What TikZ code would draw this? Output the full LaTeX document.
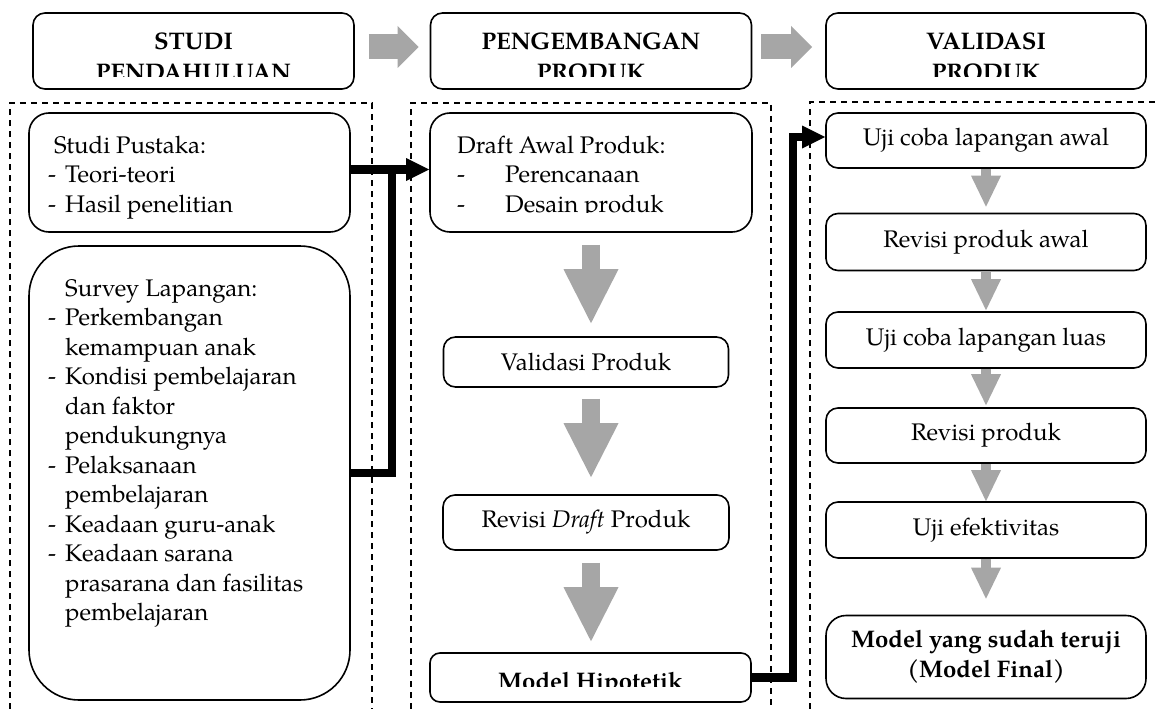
\documentclass[tikz,border=0pt]{standalone}
\usepackage{fontspec}
\setmainfont{TeX Gyre Pagella}
\usetikzlibrary{arrows.meta}
\definecolor{agray}{RGB}{166,166,166}
\newcommand\ditem[1]{\makebox[17pt][l]{-}#1}
\newcommand\dcont[1]{\hspace*{17pt}#1}
\begin{document}
\begin{tikzpicture}[x=1pt,y=-1pt,
  font=\fontsize{24}{29.5}\selectfont,
  rbox/.style={draw, line width=1.6pt, inner sep=0pt, rounded corners=#1},
  rbox/.default=12pt,
  hd/.style={rbox=12pt, minimum width=321pt, minimum height=76pt},
  cbox/.style={rbox=12pt, minimum width=320pt, align=center},
  txt/.style={inner sep=0pt, anchor=base west},
  htxt/.style={inner sep=0pt, anchor=base, font=\fontsize{24}{29.5}\selectfont\bfseries},
  dashbox/.style={line width=1.2pt, dash pattern=on 6pt off 5pt},
  harr/.style={agray, line width=25pt, -{Triangle[length=21pt,width=42pt,line width=0pt]}},
  bigarr/.style={agray, line width=18pt, -{Triangle[length=54pt,width=55pt,line width=0pt]}},
  smarr/.style={agray, line width=10pt, -{Triangle[length=31pt,width=30pt,line width=0pt]}},
  blk/.style={line width=8.5pt, line join=miter, -{Triangle[length=23pt,width=23pt,line width=0pt]}},
  blkline/.style={line width=8.5pt, line join=miter},
]
\useasboundingbox[fill=white] (0,0) rectangle (1160,709);

% dashed containers
\draw[dashbox] (10,709) -- (10,103) -- (372,103) -- (372,709);
\draw[dashbox] (411,709) -- (411,103) -- (771,103) -- (771,709);
\draw[dashbox] (810,709) -- (810,102) -- (1160,102);

% headers
\node[hd] (h1) at (193.5,51) {};
\node[hd] (h2) at (591,51) {};
\node[hd, minimum width=320pt] (h3) at (986,51) {};
\node[htxt] (h1a) at (193.5,50) {STUDI};
\node[htxt] (h2a) at (591,50) {PENGEMBANGAN};
\node[htxt] (h3a) at (986,50) {VALIDASI};
\begin{scope}
\clip (0,0) rectangle (1160,77);
\node[htxt] (h1b) at (193.5,81) {PENDAHULUAN};
\node[htxt] (h2b) at (591,81) {PRODUK};
\node[htxt] (h3b) at (986,81) {PRODUK};
\end{scope}
\draw[harr] ([shift={(14pt,4pt)}]h1.east) -- ([shift={(-11pt,4pt)}]h2.west);
\draw[harr] ([shift={(9pt,4pt)}]h2.east) -- ([shift={(-13pt,4pt)}]h3.west);

% left column
\node[rbox=20pt, minimum width=321pt, minimum height=119pt] (sp) at (189.5,172.5) {};
\node[txt] (spt) at (48,153) {\parbox[t]{290pt}{\hspace*{6pt}Studi Pustaka:\\
\ditem{Teori-teori}\\
\ditem{Hasil penelitian}}};
\node[rbox=50pt, minimum width=321pt, minimum height=454pt] (sv) at (189.5,473) {};
\node[txt] (svt) at (48,296) {\parbox[t]{300pt}{\dcont{Survey Lapangan:}\\
\ditem{Perkembangan}\\
\dcont{kemampuan anak}\\
\ditem{Kondisi pembelajaran}\\
\dcont{dan faktor}\\
\dcont{pendukungnya}\\
\ditem{Pelaksanaan}\\
\dcont{pembelajaran}\\
\ditem{Keadaan guru-anak}\\
\ditem{Keadaan sarana}\\
\dcont{prasarana dan fasilitas}\\
\dcont{pembelajaran}}};

% middle column
\node[rbox=20pt, minimum width=322pt, minimum height=119pt] (dr) at (591,172.5) {};
\begin{scope}
\clip (430,113) rectangle (752,212.5);
\node[txt] (drt) at (457,153) {\parbox[t]{290pt}{Draft Awal Produk:\\
\makebox[48pt][l]{-}Perencanaan\\
\makebox[48pt][l]{-}Desain produk}};
\end{scope}
\node[rbox=12pt, minimum width=285pt, minimum height=50pt] (va) at (586,362) {Validasi Produk};
\node[rbox=12pt, minimum width=286pt, minimum height=55pt] (rd) at (586,522.5) {Revisi \textit{Draft} Produk};
\node[rbox=10pt, minimum width=321pt, minimum height=49pt] (hp) at (590.5,677.5) {};
\begin{scope}
\clip (430,653) rectangle (752,686.5);
\node[htxt] (hpt) at (590.5,689) {Model Hipotetik};
\end{scope}
\draw[bigarr, shorten <=12pt, shorten >=13pt] (dr.south) -- (dr.south |- va.north);
\draw[bigarr, shorten <=11pt, shorten >=17pt] (dr.south |- va.south) -- (dr.south |- rd.north);
\draw[bigarr, shorten <=12pt, shorten >=11pt] (dr.south |- rd.south) -- (dr.south |- hp.north);

% right column
\node[cbox, minimum height=55pt] (u1) at (986,140.5) {Uji coba lapangan awal};
\node[cbox, minimum height=57pt] (u2) at (986,242) {Revisi produk awal};
\node[cbox, minimum height=56pt] (u3) at (986,340) {Uji coba lapangan luas};
\node[cbox, minimum height=55pt] (u4) at (986,435.5) {Revisi produk};
\node[cbox, minimum height=56pt] (u5) at (986,530) {Uji efektivitas};
\node[cbox, rbox=20pt, minimum height=83pt, font=\fontsize{24}{29.5}\selectfont\bfseries] (u6) at (986,657) {Model yang sudah teruji\\(Model Final)};
\draw[smarr, shorten >=6pt] (u1.south) -- (u2.north);
\draw[smarr, shorten >=1pt] (u2.south) -- (u3.north);
\draw[smarr, shorten >=2pt] (u3.south) -- (u4.north);
\draw[smarr] (u4.south) -- (u5.north);
\draw[smarr, shorten >=16pt] (u5.south) -- (u6.north);

% black connectors
\coordinate (j1) at (392,169.5);
\coordinate (j2) at (793,137);
\draw[blk] ([yshift=3pt]sp.east) -- ([yshift=3pt]dr.west);
\draw[blkline] (sv.east) -| (j1);
\draw[blk] (hp.east) -| (j2) -- (j2 -| u1.west);
\end{tikzpicture}
\end{document}
